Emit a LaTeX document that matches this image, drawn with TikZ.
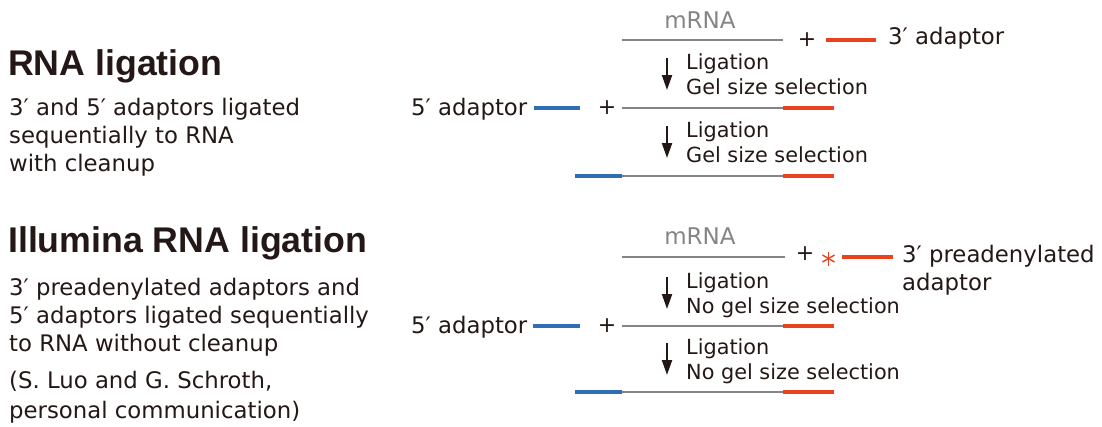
\documentclass[tikz,border=0pt]{standalone}
\usepackage{fontspec}
\setmainfont{DejaVu Sans}
\newfontfamily\headfont{Liberation Sans}
\usepackage{xcolor}
\usepackage{tikz}
\usetikzlibrary{arrows.meta, positioning}

\definecolor{adblue}{HTML}{2F6DB5}
\definecolor{adred}{HTML}{E8431E}
\definecolor{rnagray}{HTML}{858585}
\definecolor{inkdark}{HTML}{231815}

\begin{document}
\begin{tikzpicture}[x=1pt, y=-1pt, >={Triangle[length=15pt, width=10pt]},
    heading/.style={anchor=base west, inner sep=0pt, text=inkdark,
        font=\headfont\bfseries\fontsize{35.7}{40}\selectfont},
    desc/.style={anchor=base west, inner sep=0pt, align=left, text=inkdark,
        font=\fontsize{22.8}{27.7}\selectfont},
    steplabel/.style={anchor=base west, inner sep=0pt, align=left, text=inkdark,
        font=\fontsize{20.8}{25}\selectfont},
    rnalabel/.style={anchor=base, inner sep=0pt, text=rnagray,
        font=\fontsize{23}{26}\selectfont},
    plussign/.style={inner sep=0pt, text=inkdark, font=\fontsize{22}{26}\selectfont},
    rnaline/.style={draw=rnagray, line width=2.8pt},
    fiveline/.style={draw=adblue, line width=3.4pt},
    threeline/.style={draw=adred, line width=3.4pt},
    stepdown/.style={->, draw=inkdark, line width=2pt},
    asterline/.style={draw=adred, line width=1.4pt}]
    \useasboundingbox (0,0) rectangle (1102,426);

    % Tieu de ben trai (base = dong cuoi)
    \node[heading] (headA) at (8,75) {RNA ligation};
    \node[desc] (descA) at (9,171) {3′ and 5′ adaptors ligated\\sequentially to RNA\\with cleanup};
    \node[heading] (headB) at (8,252) {Illumina RNA ligation};
    \node[desc] (descB) at (9,351) {3′ preadenylated adaptors and\\5′ adaptors ligated sequentially\\to RNA without cleanup};
    \node[desc, font=\fontsize{22.8}{30}\selectfont] (citeB) at (9,418) {(S. Luo and G. Schroth,\\personal communication)};

    % ===== RNA ligation =====
    % mRNA + adaptor 3'
    \node[rnalabel] (mrnaA) at (700,28) {mRNA};
    \coordinate (rnaA0l) at (622,40);
    \coordinate (rnaA0r) at (783,40);
    \draw[rnaline] (rnaA0l) -- (rnaA0r);
    \node[plussign] (plusA0) at (807,40) {+};
    \coordinate (redA0l) at (826,40);
    \coordinate (redA0r) at (876,40);
    \draw[threeline] (redA0l) -- (redA0r);
    \node[desc] (adp3A) at (888,44) {3′ adaptor};

    % buoc 1
    \coordinate (arA1s) at (667,58);
    \coordinate (arA1e) at (667,90);
    \draw[stepdown] (arA1s) -- (arA1e);
    \node[steplabel] (labA1) at (686,94) {Ligation\\Gel size selection};

    % adaptor 5' + mRNA-3'
    \node[desc] (adp5A) at (411,115) {5′ adaptor};
    \coordinate (blueA1l) at (534,108);
    \coordinate (blueA1r) at (580,108);
    \draw[fiveline] (blueA1l) -- (blueA1r);
    \node[plussign] (plusA1) at (607,108) {+};
    \coordinate (rnaA1l) at (622,108);
    \coordinate (rnaA1r) at (783,108);
    \coordinate (redA1r) at (834,108);
    \draw[rnaline] (rnaA1l) -- (rnaA1r);
    \draw[threeline] (rnaA1r) -- (redA1r);

    % buoc 2
    \coordinate (arA2s) at (667,126);
    \coordinate (arA2e) at (667,158);
    \draw[stepdown] (arA2s) -- (arA2e);
    \node[steplabel] (labA2) at (686,162) {Ligation\\Gel size selection};

    % san pham
    \coordinate (blueA2l) at (575,176);
    \coordinate (rnaA2l) at (622,176);
    \coordinate (rnaA2r) at (783,176);
    \coordinate (redA2r) at (834,176);
    \draw[fiveline] (blueA2l) -- (rnaA2l);
    \draw[rnaline] (rnaA2l) -- (rnaA2r);
    \draw[threeline] (rnaA2r) -- (redA2r);

    % ===== Illumina RNA ligation =====
    % mRNA + adaptor 3' preadenyl
    \node[rnalabel] (mrnaB) at (700,244) {mRNA};
    \coordinate (rnaB0l) at (622,257);
    \coordinate (rnaB0r) at (785,257);
    \draw[rnaline] (rnaB0l) -- (rnaB0r);
    \node[plussign] (plusB0) at (805,254) {+};
    \coordinate (astB) at (828.5,258.5);
    \foreach \ang in {90,30,150}
        \draw[asterline] (astB) ++(\ang:7) -- ++(\ang+180:14);
    \coordinate (redB0l) at (842,257);
    \coordinate (redB0r) at (893,257);
    \draw[threeline] (redB0l) -- (redB0r);
    \node[desc] (adp3B) at (902,290) {3′ preadenylated\\adaptor};

    % buoc 1
    \coordinate (arB1s) at (667,277);
    \coordinate (arB1e) at (667,309);
    \draw[stepdown] (arB1s) -- (arB1e);
    \node[steplabel] (labB1) at (686,313) {Ligation\\No gel size selection};

    % adaptor 5' + mRNA-3'
    \node[desc] (adp5B) at (411,333) {5′ adaptor};
    \coordinate (blueB1l) at (533,326);
    \coordinate (blueB1r) at (580,326);
    \draw[fiveline] (blueB1l) -- (blueB1r);
    \node[plussign] (plusB1) at (607,326) {+};
    \coordinate (rnaB1l) at (622,326);
    \coordinate (rnaB1r) at (783,326);
    \coordinate (redB1r) at (834,326);
    \draw[rnaline] (rnaB1l) -- (rnaB1r);
    \draw[threeline] (rnaB1r) -- (redB1r);

    % buoc 2
    \coordinate (arB2s) at (667,343);
    \coordinate (arB2e) at (667,375);
    \draw[stepdown] (arB2s) -- (arB2e);
    \node[steplabel] (labB2) at (686,379) {Ligation\\No gel size selection};

    % san pham
    \coordinate (blueB2l) at (575,392);
    \coordinate (rnaB2l) at (622,392);
    \coordinate (rnaB2r) at (783,392);
    \coordinate (redB2r) at (834,392);
    \draw[fiveline] (blueB2l) -- (rnaB2l);
    \draw[rnaline] (rnaB2l) -- (rnaB2r);
    \draw[threeline] (rnaB2r) -- (redB2r);
\end{tikzpicture}
\end{document}
